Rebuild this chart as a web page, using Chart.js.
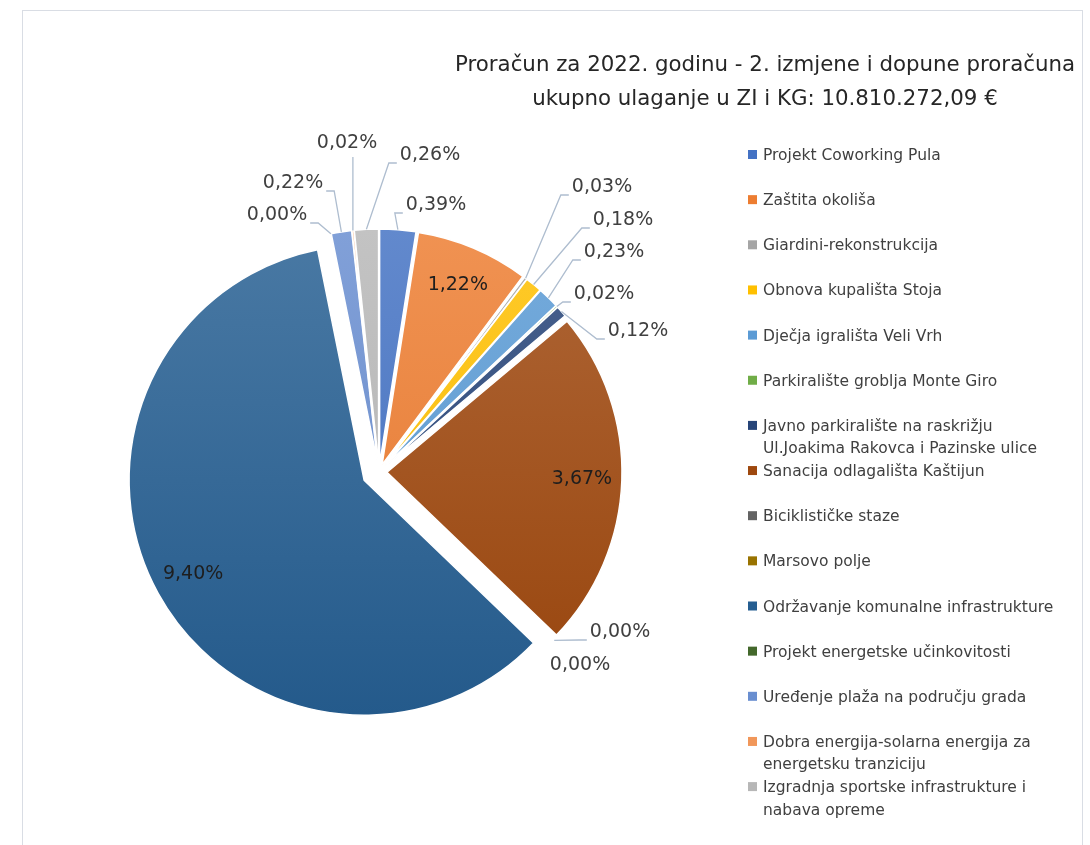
<!DOCTYPE html>
<html>
<head>
<meta charset="utf-8">
<script src="https://cdn.jsdelivr.net/npm/chart.js@4.4.1/dist/chart.umd.min.js"></script>
<style>
  html, body { margin: 0; padding: 0; background: #fff; }
  canvas { position: absolute; left: 0; top: 0; }
  #frame {
    position: absolute; left: 22px; top: 10px; width: 1059px; height: 900px;
    border: 1px solid #d9dde4; pointer-events: none;
  }
</style>
</head>
<body>
<canvas id="budget" width="1090" height="845"></canvas>
<div id="frame"></div>
<script>
const titleLines = [
  "Proračun za 2022. godinu - 2. izmjene i dopune proračuna",
  "ukupno ulaganje u ZI i KG: 10.810.272,09 €",
];

const categories = [
  "Projekt Coworking Pula",
  "Zaštita okoliša",
  "Giardini-rekonstrukcija",
  "Obnova kupališta Stoja",
  "Dječja igrališta Veli Vrh",
  "Parkiralište groblja Monte Giro",
  "Javno parkiralište na raskrižju Ul.Joakima Rakovca i Pazinske ulice",
  "Sanacija odlagališta Kaštijun",
  "Biciklističke staze",
  "Marsovo polje",
  "Održavanje komunalne infrastrukture",
  "Projekt energetske učinkovitosti",
  "Uređenje plaža na području grada",
  "Dobra energija-solarna energija za energetsku tranziciju",
  "Izgradnja sportske infrastrukture i nabava opreme",
];

// share of the budget, in percent
const shares = [0.39, 1.22, 0.03, 0.18, 0.23, 0.02, 0.12, 3.67, 0.00, 0.00, 9.40, 0.00, 0.22, 0.02, 0.26];

const colors = [
  "#4472C4", "#ED7D31", "#A5A5A5", "#FFC000", "#5B9BD5",
  "#70AD47", "#264478", "#9E480E", "#636363", "#997300",
  "#255E91", "#43682B", "#698ED0", "#F1975A", "#B7B7B7",
];

// layout
const pieRadius = 235;
const explode = [8, 8, 8, 8, 8, 8, 8, 8, 8, 8, 17, 8, 8, 8, 8];
// centres of the callout labels; null puts the label inside its slice
const labelSpots = [
  [436, 205], null, [602, 187], [623, 220], [614, 252], [604, 294], [638, 331],
  null, [620, 632], [580, 665], null, [277, 215], [293, 183], [347, 143], [430, 155],
];
const noLeader = [9];

const FONT = '"DejaVu Sans", "Noto Sans", sans-serif';

function formatPct(v) {
  return v.toFixed(2).replace(".", ",") + "%";
}

function mix(hex, target, t) {
  const a = parseInt(hex.slice(1), 16), b = parseInt(target.slice(1), 16);
  const ch = (n, s) => (n >> s) & 255;
  const r = Math.round(ch(a, 16) + (ch(b, 16) - ch(a, 16)) * t);
  const g = Math.round(ch(a, 8) + (ch(b, 8) - ch(a, 8)) * t);
  const bl = Math.round(ch(a, 0) + (ch(b, 0) - ch(a, 0)) * t);
  return `rgb(${r},${g},${bl})`;
}

function sliceFill(c) {
  const base = colors[c.dataIndex];
  const area = c.chart.chartArea;
  if (!area) return base;
  const cy = (area.top + area.bottom) / 2;
  const g = c.chart.ctx.createLinearGradient(0, cy - pieRadius, 0, cy + pieRadius);
  g.addColorStop(0, mix(base, "#ffffff", 0.16));
  g.addColorStop(1, mix(base, "#000000", 0.04));
  return g;
}

// pulls every slice out along its bisector before drawing it
const explodePlugin = {
  id: "explode",
  beforeDatasetDraw(chart, args) {
    const ctx = chart.ctx;
    args.meta.data.forEach((arc, i) => {
      const mid = (arc.startAngle + arc.endAngle) / 2;
      ctx.save();
      ctx.translate(Math.cos(mid) * explode[i], Math.sin(mid) * explode[i]);
      arc.draw(ctx, chart.chartArea);
      ctx.restore();
    });
    return false;
  },
};

function drawLeader(ctx, ax, ay, cx, cy, w) {
  const left = cx - w / 2, right = cx + w / 2, by = cy + 8;
  ctx.beginPath();
  ctx.moveTo(ax, ay);
  if (ax < left - 2) {
    ctx.lineTo(left - 11, by);
    ctx.lineTo(left - 3, by);
  } else if (ax > right + 2) {
    ctx.lineTo(right + 11, by);
    ctx.lineTo(right + 3, by);
  } else {
    ctx.lineTo(ax, by + 6);
  }
  ctx.stroke();
}

const labelPlugin = {
  id: "sliceLabels",
  afterDatasetsDraw(chart) {
    const ctx = chart.ctx;
    const arcs = chart.getDatasetMeta(0).data;
    ctx.save();
    ctx.font = `19px ${FONT}`;
    ctx.textAlign = "center";
    ctx.textBaseline = "middle";
    arcs.forEach((arc, i) => {
      const mid = (arc.startAngle + arc.endAngle) / 2;
      const ox = arc.x + Math.cos(mid) * explode[i];
      const oy = arc.y + Math.sin(mid) * explode[i];
      const text = formatPct(shares[i]);
      const spot = labelSpots[i];
      if (!spot) {
        const r = arc.outerRadius * 0.83;
        ctx.fillStyle = "#1e1e1e";
        ctx.fillText(text, ox + Math.cos(mid) * r, oy + Math.sin(mid) * r);
        return;
      }
      const w = ctx.measureText(text).width;
      if (!noLeader.includes(i)) {
        ctx.strokeStyle = "#aebdcf";
        ctx.lineWidth = 1.3;
        drawLeader(ctx, ox + Math.cos(mid) * arc.outerRadius, oy + Math.sin(mid) * arc.outerRadius,
          spot[0], spot[1], w);
      }
      ctx.fillStyle = "#404040";
      ctx.fillText(text, spot[0], spot[1]);
    });
    ctx.restore();
  },
};

function wrapText(ctx, text, maxWidth) {
  const lines = [];
  let line = "";
  text.split(" ").forEach((word) => {
    const next = line ? line + " " + word : word;
    if (line && ctx.measureText(next).width > maxWidth) {
      lines.push(line);
      line = word;
    } else {
      line = next;
    }
  });
  lines.push(line);
  return lines;
}

const sidePlugin = {
  id: "titleAndLegend",
  afterDraw(chart) {
    const ctx = chart.ctx;
    ctx.save();

    // title, squeezed a little to the width of the original heading
    ctx.font = `22px ${FONT}`;
    ctx.fillStyle = "#262626";
    ctx.textAlign = "center";
    ctx.textBaseline = "alphabetic";
    const sx = 620 / ctx.measureText(titleLines[0]).width;
    const baselines = [71, 105];
    titleLines.forEach((t, k) => {
      ctx.save();
      ctx.translate(765, baselines[k]);
      ctx.scale(sx, 1);
      ctx.fillText(t, 0, 0);
      ctx.restore();
    });

    // legend column
    ctx.font = `15.5px ${FONT}`;
    ctx.textAlign = "left";
    categories.forEach((name, i) => {
      const cy = 154.5 + i * 45.15;
      ctx.fillStyle = colors[i];
      ctx.fillRect(748, cy - 4.5, 9, 9);
      ctx.fillStyle = "#404040";
      wrapText(ctx, name, 300).forEach((line, k) => {
        ctx.fillText(line, 763, cy + 5.5 + k * 22.5);
      });
    });
    ctx.restore();
  },
};

new Chart(document.getElementById("budget"), {
  type: "pie",
  data: {
    labels: categories,
    datasets: [{
      data: shares,
      backgroundColor: sliceFill,
      borderColor: "#ffffff",
      borderWidth: 1.5,
      radius: pieRadius,
    }],
  },
  options: {
    responsive: false,
    animation: false,
    events: [],
    layout: { padding: { left: 100, right: 432, top: 200, bottom: 101 } },
    plugins: {
      legend: { display: false },
      title: { display: false },
      tooltip: { enabled: false },
    },
  },
  plugins: [explodePlugin, labelPlugin, sidePlugin],
});
</script>
</body>
</html>
